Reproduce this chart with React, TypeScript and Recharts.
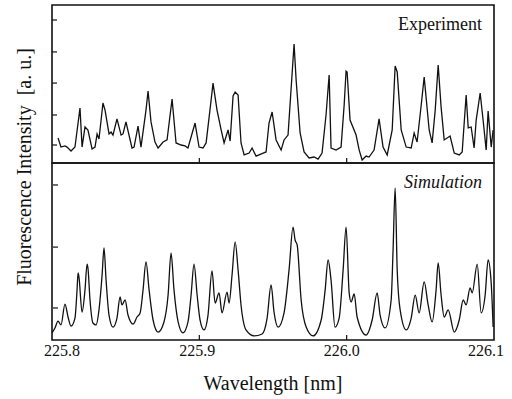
import React from 'react';
import { LineChart, Line, XAxis, YAxis, ReferenceArea, ReferenceLine, Label } from 'recharts';

// Experiment spectrum (wavelength in nm, intensity in a.u.)
const expWavelength = [
  225.8041, 225.8061, 225.8088, 225.8102, 225.8129, 225.8156, 225.8190, 225.8204, 225.8224, 225.8244,
  225.8272, 225.8292, 225.8306, 225.8319, 225.8346, 225.8360, 225.8387, 225.8401, 225.8414, 225.8441,
  225.8469, 225.8482, 225.8502, 225.8543, 225.8557, 225.8584, 225.8604, 225.8638, 225.8652, 225.8672,
  225.8699, 225.8720, 225.8754, 225.8781, 225.8815, 225.8842, 225.8876, 225.8903, 225.8923, 225.8971,
  225.8998, 225.9025, 225.9046, 225.9080, 225.9093, 225.9120, 225.9148, 225.9168, 225.9195, 225.9209,
  225.9229, 225.9243, 225.9263, 225.9283, 225.9304, 225.9338, 225.9358, 225.9385, 225.9433, 225.9453,
  225.9473, 225.9494, 225.9521, 225.9555, 225.9575, 225.9602, 225.9630, 225.9643, 225.9657, 225.9684,
  225.9711, 225.9745, 225.9779, 225.9806, 225.9833, 225.9860, 225.9881, 225.9894, 225.9928, 225.9962,
  225.9983, 225.9996, 226.0003, 226.0023, 226.0064, 226.0085, 226.0105, 226.0132, 226.0152, 226.0186,
  226.0220, 226.0247, 226.0275, 226.0309, 226.0329, 226.0343, 226.0370, 226.0404, 226.0438, 226.0458,
  226.0478, 226.0506, 226.0526, 226.0560, 226.0580, 226.0601, 226.0621, 226.0641, 226.0662, 226.0702,
  226.0730, 226.0764, 226.0784, 226.0811, 226.0825, 226.0845, 226.0865, 226.0879, 226.0906, 226.0926,
  226.0947, 226.0960, 226.0981, 226.0994,
];
const expIntensity = [
  15.8, 10.1, 10.8, 10.1, 7.6, 10.1, 34.8, 10.1, 22.8, 20.9,
  8.9, 10.1, 18.4, 15.2, 38.0, 33.5, 18.4, 19.6, 17.7, 27.9,
  17.7, 18.4, 26.0, 9.5, 10.1, 23.4, 10.1, 33.5, 45.6, 26.0,
  13.3, 9.5, 13.3, 14.6, 40.5, 12.7, 11.4, 10.8, 9.5, 25.3,
  10.1, 9.5, 12.7, 39.9, 50.6, 33.5, 20.9, 12.7, 20.9, 13.9,
  42.4, 44.9, 43.0, 12.7, 5.1, 6.3, 9.5, 4.4, 6.3, 7.0,
  25.3, 32.3, 14.6, 8.2, 14.6, 17.7, 57.0, 75.3, 52.5, 19.0,
  7.0, 3.2, 3.8, 2.5, 6.3, 30.4, 55.7, 9.5, 8.2, 10.1,
  36.7, 58.2, 57.6, 27.2, 17.7, 8.2, 1.9, 4.4, 3.8, 8.2,
  27.9, 10.1, 5.1, 20.9, 61.4, 57.6, 20.9, 10.1, 9.5, 19.0,
  13.3, 36.7, 54.4, 20.9, 12.7, 33.5, 62.0, 35.4, 14.6, 17.1,
  6.3, 5.1, 7.0, 43.0, 22.2, 22.8, 9.5, 27.2, 44.3, 27.2,
  8.2, 32.9, 10.1, 20.9,
];

// Simulated spectrum
const simWavelength = [
  225.8000, 225.8020, 225.8041, 225.8061, 225.8088, 225.8109, 225.8129, 225.8156, 225.8170, 225.8177,
  225.8183, 225.8204, 225.8224, 225.8238, 225.8244, 225.8258, 225.8278, 225.8299, 225.8319, 225.8340,
  225.8353, 225.8367, 225.8387, 225.8414, 225.8441, 225.8462, 225.8475, 225.8496, 225.8516, 225.8550,
  225.8577, 225.8598, 225.8618, 225.8638, 225.8659, 225.8686, 225.8720, 225.8760, 225.8788, 225.8808,
  225.8828, 225.8856, 225.8889, 225.8923, 225.8944, 225.8964, 225.8985, 225.9005, 225.9032, 225.9059,
  225.9086, 225.9107, 225.9134, 225.9154, 225.9188, 225.9202, 225.9222, 225.9243, 225.9263, 225.9283,
  225.9317, 225.9372, 225.9426, 225.9460, 225.9487, 225.9507, 225.9535, 225.9575, 225.9609, 225.9636,
  225.9650, 225.9664, 225.9691, 225.9725, 225.9772, 225.9827, 225.9854, 225.9874, 225.9894, 225.9921,
  225.9949, 225.9976, 225.9996, 226.0017, 226.0030, 226.0051, 226.0071, 226.0132, 226.0173, 226.0207,
  226.0227, 226.0261, 226.0302, 226.0315, 226.0329, 226.0343, 226.0363, 226.0404, 226.0438, 226.0465,
  226.0492, 226.0526, 226.0553, 226.0580, 226.0607, 226.0621, 226.0641, 226.0662, 226.0689, 226.0730,
  226.0764, 226.0791, 226.0811, 226.0838, 226.0852, 226.0886, 226.0913, 226.0940, 226.0960, 226.0981,
  226.0994,
];
const simIntensity = [
  4.0, 6.8, 10.7, 8.5, 20.3, 13.0, 7.9, 12.4, 28.3, 37.9,
  35.6, 15.8, 28.3, 42.9, 40.7, 22.6, 9.6, 8.5, 17.0, 36.7,
  52.0, 33.9, 14.1, 7.3, 12.4, 24.3, 19.8, 22.6, 14.1, 9.0,
  13.0, 15.3, 28.3, 44.1, 28.3, 11.3, 4.5, 10.2, 25.4, 49.2,
  28.3, 10.2, 4.0, 10.2, 25.4, 42.9, 25.4, 11.3, 5.7, 14.1,
  39.0, 20.9, 26.6, 15.3, 27.1, 20.9, 36.7, 55.4, 39.6, 19.8,
  5.7, 2.3, 3.4, 12.4, 31.1, 15.8, 7.3, 15.3, 39.6, 63.8,
  56.5, 53.7, 22.6, 7.3, 2.3, 11.3, 28.3, 45.2, 33.9, 7.3,
  12.4, 39.6, 63.8, 26.6, 21.5, 26.0, 13.0, 2.8, 11.3, 26.6,
  14.1, 6.8, 22.6, 50.9, 85.9, 39.6, 17.0, 5.7, 12.4, 25.4,
  15.3, 32.8, 19.8, 10.2, 28.3, 43.5, 25.4, 13.0, 17.0, 4.5,
  11.3, 22.6, 19.8, 29.4, 26.6, 42.9, 15.3, 25.4, 45.2, 32.2,
  7.3,
];

const xTicks = [225.8, 225.9, 226.0, 226.1];
const innerXTicks = [225.9, 226.0];
const expTicks = [11.4, 30.4, 50.6, 70.3, 90.5];
const simTicks = [18.1, 52.5, 87.6];

const expData = expWavelength.map((nm, i) => ({ nm, v: expIntensity[i] }));
const simData = simWavelength.map((nm, i) => ({ nm, v: simIntensity[i] }));

const FONT = '"Liberation Serif", "Times New Roman", serif';
const INK = '#111';

const labelShift: Record<string, number> = { '225.8': 10, '225.9': -2, '226.0': -5, '226.1': -8 };

const XTick = (props: any) => {
  const { x, y, payload } = props;
  const txt = Number(payload.value).toFixed(1);
  return (
    <text x={x + (labelShift[txt] || 0)} y={y} dy="0.71em" textAnchor="middle" fontFamily={FONT} fontSize={16} fill={INK}>
      {txt}
    </text>
  );
};

const NoTick = () => <g />;

const YTitle = () => (
  <text
    x={24}
    y={167}
    transform="rotate(-90 24 167)"
    textAnchor="middle"
    dominantBaseline="central"
    fontFamily={FONT}
    fontSize={20}
    fill={INK}
    style={{ whiteSpace: 'pre' }}
  >
    {'Fluorescence Intensity  [a. u.]'}
  </text>
);

export default function App() {
  return (
    <div style={{ position: 'absolute', left: 0, top: 0, width: 512, height: 399, background: '#fff' }}>
      <LineChart width={512} height={399} margin={{ top: 5, right: 18, bottom: 0, left: 52 }}>
        <XAxis
          type="number"
          dataKey="nm"
          domain={[225.8, 226.1]}
          allowDataOverflow
          ticks={xTicks}
          tick={<XTick />}
          tickLine={false}
          tickSize={0}
          tickMargin={5}
          axisLine={false}
          height={59}
        >
          <Label value="Wavelength [nm]" position="insideBottom" offset={9} fontFamily={FONT} fontSize={20} fill={INK} />
          <Label content={<YTitle />} />
        </XAxis>
        <YAxis
          yAxisId="exp"
          type="number"
          domain={[-112, 100]}
          allowDataOverflow
          ticks={expTicks}
          tick={<NoTick />}
          tickSize={5}
          tickLine={{ stroke: INK, strokeWidth: 1.2 }}
          axisLine={false}
          stroke={INK}
          mirror
          width={1}
        />
        <YAxis
          yAxisId="sim"
          type="number"
          domain={[0, 189.3]}
          allowDataOverflow
          ticks={simTicks}
          tick={<NoTick />}
          tickSize={5}
          tickLine={{ stroke: INK, strokeWidth: 1.2 }}
          axisLine={false}
          stroke={INK}
          mirror
          width={1}
        />
        <ReferenceArea
          yAxisId="exp"
          x1={225.8}
          x2={226.1}
          y1={0}
          y2={100}
          fill="none"
          stroke={INK}
          strokeWidth={1.6}
          label={{ value: 'Experiment', position: 'insideTopRight', offset: 12, fontFamily: FONT, fontSize: 18, fill: INK }}
        />
        <ReferenceArea
          yAxisId="sim"
          x1={225.8}
          x2={226.1}
          y1={0}
          y2={100}
          fill="none"
          stroke={INK}
          strokeWidth={1.6}
          label={{ value: 'Simulation', position: 'insideTopRight', offset: 12, fontFamily: FONT, fontSize: 18, fontStyle: 'italic', fill: INK }}
        />
        {innerXTicks.map((t) => (
          <ReferenceLine
            key={'e' + t}
            yAxisId="exp"
            segment={[{ x: t, y: 0 }, { x: t, y: 3.2 }]}
            stroke={INK}
            strokeWidth={1.2}
          />
        ))}
        {innerXTicks.map((t) => (
          <ReferenceLine
            key={'s' + t}
            yAxisId="sim"
            segment={[{ x: t, y: 0 }, { x: t, y: 2.8 }]}
            stroke={INK}
            strokeWidth={1.2}
          />
        ))}
        <Line
          yAxisId="exp"
          data={expData}
          dataKey="v"
          type="linear"
          stroke={INK}
          strokeWidth={1.3}
          dot={false}
          isAnimationActive={false}
        />
        <Line
          yAxisId="sim"
          data={simData}
          dataKey="v"
          type="monotone"
          stroke={INK}
          strokeWidth={1.3}
          dot={false}
          isAnimationActive={false}
        />
      </LineChart>
    </div>
  );
}
